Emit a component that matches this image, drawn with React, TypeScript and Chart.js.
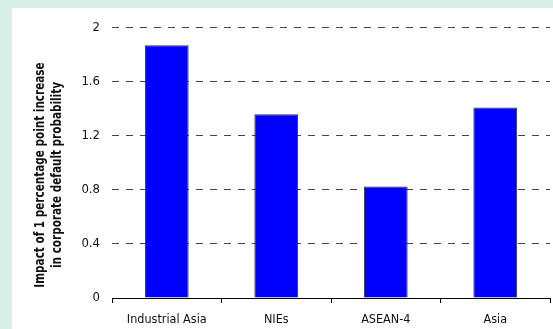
import React, { useEffect, useRef } from "react";
import { Chart, registerables } from "chart.js";

Chart.register(...registerables);

const categories = ["Industrial Asia", "NIEs", "ASEAN-4", "Asia"];
const impactValues = [1.87, 1.36, 0.825, 1.41];
const yTickValues = [0, 0.4, 0.8, 1.2, 1.6, 2];
const yTitleLines = ["Impact of 1 percentage point increase", "in corporate default probability"];

const FONT = "'DejaVu Sans Condensed', 'Liberation Sans Narrow', sans-serif";

export default function App() {
  const ref = useRef<HTMLCanvasElement | null>(null);

  useEffect(() => {
    const canvas = ref.current;
    if (!canvas) return;

    const titlePlugin = {
      id: "yTitle",
      afterDraw(chart: any) {
        const ctx = chart.ctx;
        ctx.save();
        ctx.font = `bold 14px ${FONT}`;
        ctx.fillStyle = "#111";
        ctx.textAlign = "center";
        ctx.textBaseline = "middle";
        const cy = 167;
        const xs = [28, 45];
        yTitleLines.forEach((line, i) => {
          ctx.save();
          ctx.translate(xs[i], cy);
          ctx.rotate(-Math.PI / 2);
          ctx.scale(0.83, 1);
          ctx.fillText(line, 0, 0);
          ctx.restore();
        });
        ctx.restore();
      },
    };

    const chart = new Chart(canvas, {
      type: "bar",
      data: {
        labels: categories,
        datasets: [
          {
            data: impactValues,
            backgroundColor: "#0000ff",
            borderColor: "#333333",
            borderWidth: 1,
            barPercentage: 0.4,
            categoryPercentage: 1.0,
          },
        ],
      },
      options: {
        responsive: false,
        animation: false,
        layout: { padding: { top: 14, right: 3, left: 0, bottom: 0 } },
        plugins: {
          legend: { display: false },
          tooltip: { enabled: false },
        },
        scales: {
          x: {
            offset: true,
            grid: {
              display: true,
              drawOnChartArea: false,
              drawTicks: true,
              tickLength: 5,
              offset: true,
              color: "#000",
            },
            border: { display: true, color: "#000", width: 1 },
            ticks: {
              color: "#111",
              font: { family: FONT, size: 12.5 },
              padding: 9,
              maxRotation: 0,
            },
            afterFit(scale: any) {
              scale.height = 31;
            },
          },
          y: {
            min: 0,
            max: 2,
            afterBuildTicks(scale: any) {
              scale.ticks = yTickValues.map((v) => ({ value: v }));
            },
            grid: {
              color: "#444",
              lineWidth: 1,
              drawTicks: false,
            },
            border: { display: false, dash: [7, 7] },
            ticks: {
              color: "#111",
              font: { family: FONT, size: 13 },
              padding: 12,
              callback: (v: any) => String(Math.round(Number(v) * 10) / 10),
            },
            afterFit(scale: any) {
              scale.width = 100;
            },
          },
        },
      },
      plugins: [titlePlugin],
    } as any);

    return () => chart.destroy();
  }, []);

  return (
    <div
      style={{
        position: "fixed",
        left: 0,
        top: 0,
        width: 553,
        height: 329,
        background: "#d8efe6",
        overflow: "hidden",
      }}
    >
      <div
        style={{
          position: "absolute",
          left: 12,
          top: 8,
          width: 541,
          height: 321,
          background: "#ffffff",
        }}
      >
        <canvas ref={ref} width={541} height={321} style={{ width: 541, height: 321, display: "block" }} />
      </div>
    </div>
  );
}
